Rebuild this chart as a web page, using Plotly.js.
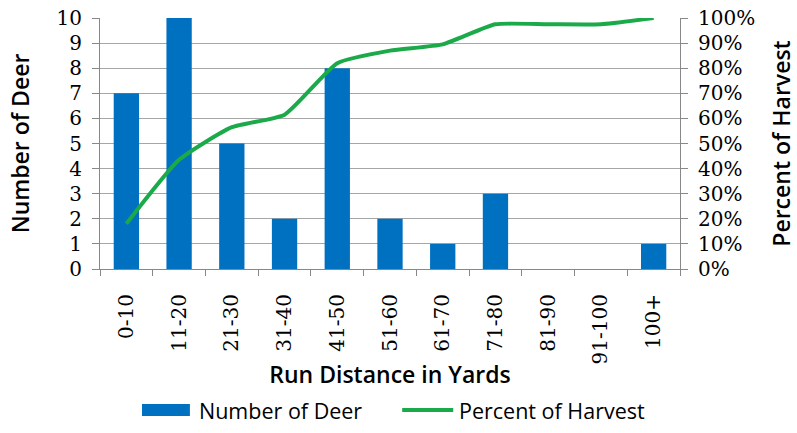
<!DOCTYPE html>
<html><head><meta charset="utf-8">
<script src="https://cdn.plot.ly/plotly-3.0.1.min.js"></script>
<style>html,body{margin:0;padding:0;background:#fff}#c{width:797px;height:433px}</style>
</head><body><div id="c"></div>
<script>
const categories = ["0-10","11-20","21-30","31-40","41-50","51-60","61-70","71-80","81-90","91-100","100+"];
const deerCounts = [7,10,5,2,8,2,1,3,0,0,1];
const harvestPct = [0.18,0.435,0.565,0.615,0.82,0.87,0.895,0.975,0.975,0.975,1.0];
const leftTicks = [0,1,2,3,4,5,6,7,8,9,10];
const rightTicks = [0,0.1,0.2,0.3,0.4,0.5,0.6,0.7,0.8,0.9,1.0];
const seriesNames = ['Number of Deer','Percent of Harvest'];

const serif = "DejaVu Serif";
const sans = "Open Sans";
const barColor = '#0070C0';
const lineColor = '#1BAA4A';

const data = [
  {type:'bar', x:categories, y:deerCounts, name:seriesNames[0],
   marker:{color:barColor}, yaxis:'y', showlegend:false},
  {type:'scatter', mode:'lines', x:categories, y:harvestPct, name:seriesNames[1],
   line:{color:lineColor, width:4, shape:'spline', smoothing:0.5}, yaxis:'y2', showlegend:false}
];
const layout = {
  width:797, height:433,
  margin:{l:100, r:117, t:18, b:164},
  paper_bgcolor:'#fff', plot_bgcolor:'#fff',
  bargap:0.52,
  showlegend:false,
  xaxis:{type:'category', tickangle:-90, tickson:'boundaries', ticks:'outside', ticklen:6,
         tickcolor:'#888', showline:true, linecolor:'#888', linewidth:1,
         tickfont:{family:serif, size:20, color:'#000'}, ticklabelstandoff:16,
         showgrid:false,
         title:{text:'Run Distance in Yards', font:{family:sans, size:23, color:'#000', weight:600}, standoff:3}},
  yaxis:{range:[0,10], tickvals:leftTicks, ticktext:leftTicks.map(String),
         ticks:'outside', ticklen:7, tickcolor:'#888', showline:true, linecolor:'#888',
         showgrid:true, gridcolor:'#a6a6a6', gridwidth:1, zeroline:false,
         tickfont:{family:serif, size:20, color:'#000'}, ticklabelstandoff:6,
         title:{text:'Number of Deer', font:{family:sans, size:23, color:'#000', weight:600}, standoff:20}},
  yaxis2:{range:[0,1], overlaying:'y', side:'right', tickvals:rightTicks,
          ticktext:rightTicks.map(v=>Math.round(v*100)+'%'),
          ticks:'outside', ticklen:7, tickcolor:'#888', showline:true, linecolor:'#888',
          showgrid:false, zeroline:false,
          tickfont:{family:serif, size:20, color:'#000'}, ticklabelstandoff:6,
          title:{text:'Percent of Harvest', font:{family:sans, size:23, color:'#000', weight:600}, standoff:22}},
  shapes:[
    {type:'rect', xref:'paper', yref:'paper', x0:0.0724, x1:0.155, y0:-0.586, y1:-0.538,
     fillcolor:barColor, line:{width:0}},
    {type:'line', xref:'paper', yref:'paper', x0:0.521, x1:0.609, y0:-0.562, y1:-0.562,
     line:{color:lineColor, width:4}}
  ],
  annotations:[
    {xref:'paper', yref:'paper', x:0.167, y:-0.562, xanchor:'left', yanchor:'middle', showarrow:false,
     text:seriesNames[0], font:{family:sans, size:21.5, color:'#000'}},
    {xref:'paper', yref:'paper', x:0.616, y:-0.562, xanchor:'left', yanchor:'middle', showarrow:false,
     text:seriesNames[1], font:{family:sans, size:21.5, color:'#000'}}
  ]
};
Plotly.newPlot('c', data, layout, {displayModeBar:false, staticPlot:true});
</script></body></html>
